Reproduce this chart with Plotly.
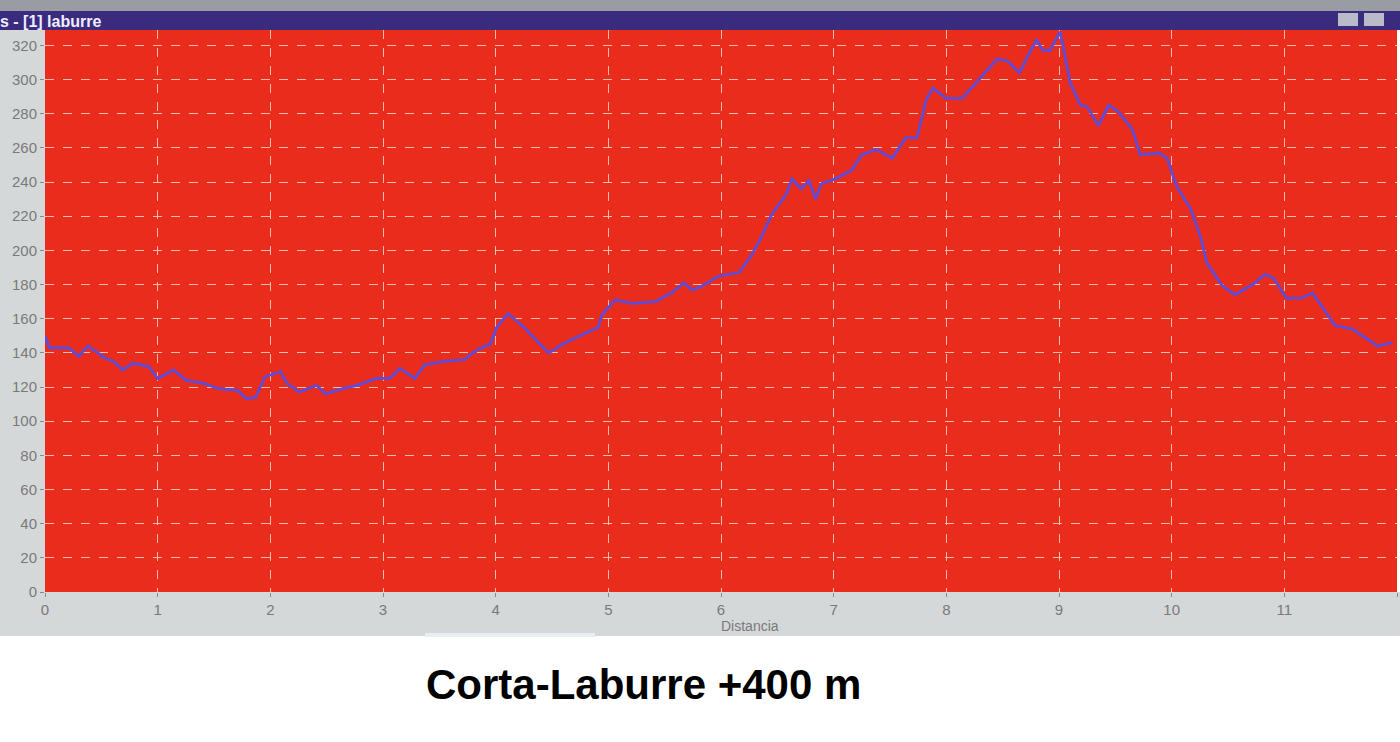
import plotly.graph_objects as go

# ---- data ----
distance_km = [0, 0.04, 0.21, 0.30, 0.38, 0.45, 0.53, 0.61, 0.69, 0.78, 0.92, 1.00,
               1.14, 1.25, 1.42, 1.54, 1.71, 1.79, 1.87, 1.95, 2.09, 2.15, 2.26, 2.41,
               2.49, 2.64, 2.77, 2.94, 3.06, 3.15, 3.28, 3.37, 3.54, 3.72, 3.84, 3.95,
               4.01, 4.11, 4.25, 4.47, 4.62, 4.85, 4.91, 4.94, 5.06, 5.21, 5.42, 5.56,
               5.67, 5.74, 5.80, 5.98, 6.16, 6.27, 6.36, 6.45, 6.58, 6.63, 6.71, 6.78,
               6.84, 6.89, 7.02, 7.16, 7.25, 7.38, 7.52, 7.58, 7.64, 7.74, 7.82, 7.88,
               8.00, 8.14, 8.29, 8.45, 8.54, 8.65, 8.74, 8.80, 8.86, 8.92, 9.01, 9.10,
               9.19, 9.25, 9.35, 9.44, 9.53, 9.65, 9.72, 9.89, 9.96, 10.04, 10.17, 10.26,
               10.31, 10.44, 10.56, 10.72, 10.83, 10.90, 11.02, 11.15, 11.25, 11.45,
               11.60, 11.83, 11.96]
elevation_m = [150, 143, 143, 138, 144, 141, 137, 135, 130, 134, 132, 125,
               130, 124, 122, 119, 118, 113, 114, 126, 129, 122, 117, 121,
               116, 119, 121, 125, 125, 131, 125, 133, 135, 136, 142, 145,
               155, 163, 155, 140, 146, 153, 155, 162, 171, 169, 170, 175,
               181, 177, 178, 185, 187, 197, 208, 221, 233, 242, 236, 241,
               230, 239, 242, 247, 256, 259, 254, 260, 266, 266, 288, 295,
               289, 289, 300, 312, 311, 304, 316, 323, 317, 317, 328, 298,
               285, 284, 273, 285, 281, 271, 256, 257, 254, 238, 224, 207,
               193, 180, 174, 180, 186, 184, 172, 172, 175, 156,
               154, 144, 146]
x_ticks = list(range(0, 13))
y_ticks = list(range(0, 321, 20))
window_title = "s - [1] laburre"
x_title = "Distancia"
caption = "Corta-Laburre +400 m"

# ---- layout geometry (pixels) ----
W, H = 1400, 742
L, R, T, B = 45, 3, 30, 150
PW, PH = W - L - R, H - T - B


def px(x):
    return (x - L) / PW


def py(y):
    return (H - B - y) / PH


fig = go.Figure()
fig.add_trace(go.Scatter(
    x=distance_km, y=elevation_m, mode="lines",
    line=dict(color="#5e4cd8", width=2.8),
    hoverinfo="skip", showlegend=False))

gray = "#d4d8d9"
shapes = [
    dict(type="rect", xref="paper", yref="paper", x0=px(0), x1=px(L), y0=py(636), y1=py(T),
         fillcolor=gray, line_width=0, layer="below"),
    dict(type="rect", xref="paper", yref="paper", x0=px(0), x1=px(W), y0=py(636), y1=py(H - B),
         fillcolor=gray, line_width=0, layer="below"),
    dict(type="rect", xref="paper", yref="paper", x0=px(425), x1=px(595), y0=py(637), y1=py(633),
         fillcolor="#e9eef2", line_width=0, layer="below"),
    dict(type="rect", xref="paper", yref="paper", x0=px(0), x1=px(W), y0=py(11), y1=py(0),
         fillcolor="#9a9ca4", line_width=0, layer="below"),
    dict(type="rect", xref="paper", yref="paper", x0=px(0), x1=px(W), y0=py(T), y1=py(11),
         fillcolor="#3a2b7e", line_width=0, layer="below"),
    dict(type="rect", xref="paper", yref="paper", x0=px(1338), x1=px(1358), y0=py(26), y1=py(13),
         fillcolor="#b9bcc8", line_width=0, layer="below"),
    dict(type="rect", xref="paper", yref="paper", x0=px(1364), x1=px(1384), y0=py(26), y1=py(13),
         fillcolor="#b9bcc8", line_width=0, layer="below"),
]

annotations = [
    dict(text=window_title, xref="paper", yref="paper", x=px(-2), y=py(21),
         xanchor="left", yanchor="middle", showarrow=False,
         font=dict(family="Liberation Sans", size=16, color="#eeeeff", weight="bold")),
    dict(text=x_title, xref="paper", yref="paper", x=px(750), y=py(626),
         xanchor="center", yanchor="middle", showarrow=False,
         font=dict(family="Liberation Sans", size=14, color="#7a7a7a")),
    dict(text=caption, xref="paper", yref="paper", x=px(643), y=py(684),
         xanchor="center", yanchor="middle", showarrow=False,
         font=dict(family="Liberation Sans", size=42, color="#000000", weight="bold")),
]

axis_font = dict(family="Liberation Sans", size=15, color="#7a7a7a")

fig.update_layout(
    width=W, height=H,
    margin=dict(l=L, r=R, t=T, b=B, pad=0),
    paper_bgcolor="#ffffff",
    plot_bgcolor="#ea2c1c",
    shapes=shapes,
    annotations=annotations,
    xaxis=dict(range=[0, 12], tickvals=x_ticks, ticktext=[str(v) for v in x_ticks],
               showgrid=True, gridcolor="rgba(255,215,200,0.85)", griddash="dash", gridwidth=1,
               zeroline=False, showline=False, ticks="outside", ticklen=4,
               tickcolor="#8a8a8a", tickfont=axis_font),
    yaxis=dict(range=[0, 329], tickvals=y_ticks, ticktext=[str(v) for v in y_ticks],
               showgrid=True, gridcolor="rgba(255,215,200,0.85)", griddash="dash", gridwidth=1,
               zeroline=False, showline=False, ticks="outside", ticklen=4,
               tickcolor="#8a8a8a", tickfont=axis_font),
)

fig.write_html("out.html", config={"displayModeBar": False},
               post_script="document.body.style.margin='0';document.body.style.padding='0';")
